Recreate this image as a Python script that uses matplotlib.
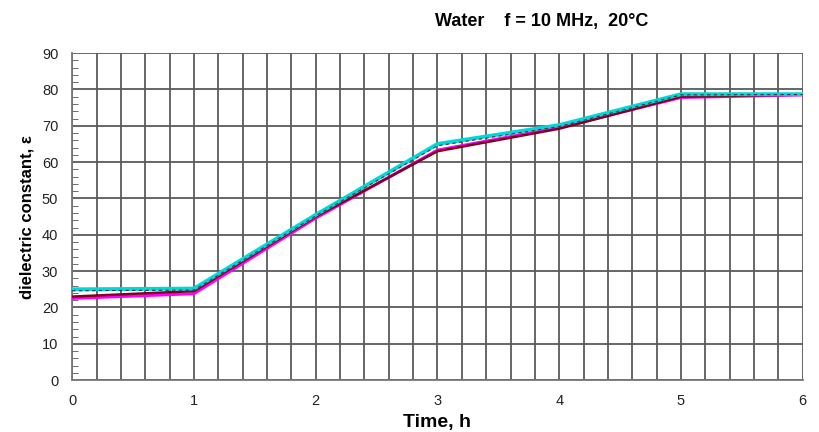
import matplotlib
matplotlib.use("Agg")
import matplotlib.pyplot as plt
from matplotlib.ticker import MultipleLocator

plt.rcParams['font.family'] = ['Liberation Sans', 'DejaVu Sans']

time_h = [0, 1, 2, 3, 4, 5, 6]
cyan_vals = [25.0, 25.2, 45.5, 65.0, 70.2, 78.7, 78.7]
black_vals = [24.6, 24.8, 45.2, 64.5, 69.8, 78.5, 78.6]
maroon_vals = [23.0, 24.5, 45.0, 63.0, 69.2, 78.0, 78.6]
magenta_vals = [22.5, 23.8, 44.6, 63.3, 69.5, 77.8, 78.5]

fig = plt.figure(figsize=(8.2, 4.32), dpi=100)
ax = fig.add_axes([0.088, 0.12, 0.891, 0.757])

ax.plot(time_h, magenta_vals, color='#ff00ff', lw=2.2, zorder=3)
ax.plot(time_h, maroon_vals, color='#800020', lw=1.8, zorder=4)
ax.plot(time_h, cyan_vals, color='#00d8d8', lw=2.8, zorder=5)
ax.plot(time_h, black_vals, color='#333333', lw=0.8, ls=(0, (3, 3)), zorder=6)

ax.set_xlim(0, 6)
ax.set_ylim(0, 90)
ax.xaxis.set_major_locator(MultipleLocator(1))
ax.xaxis.set_minor_locator(MultipleLocator(0.2))
ax.yaxis.set_major_locator(MultipleLocator(10))
ax.yaxis.set_minor_locator(MultipleLocator(2))
ax.grid(which='major', axis='y', color='#5a5a5a', lw=1.3)
ax.grid(which='both', axis='x', color='#5a5a5a', lw=1.3)
ax.set_axisbelow(True)
for s in ['top', 'right']:
    ax.spines[s].set_visible(False)
for s in ['left', 'bottom']:
    ax.spines[s].set_color('#777777')
    ax.spines[s].set_linewidth(1.3)
ax.tick_params(axis='y', which='major', direction='in', length=0, labelsize=10.5, pad=10, labelcolor='#222222')
ax.tick_params(axis='y', which='minor', direction='in', length=4, color='#555555')
ax.tick_params(axis='x', which='both', length=0, labelsize=10.5, pad=10, labelcolor='#222222')

ax.set_xlabel('Time, h', fontsize=14, fontweight='bold', labelpad=4)
ax.set_ylabel('dielectric constant, ε', fontsize=12, fontweight='bold', labelpad=5)
fig.text(0.66, 0.95, 'Water    f = 10 MHz,  20°C', fontsize=13, fontweight='bold', ha='center', va='center')

fig.savefig('out.png', dpi=100)
